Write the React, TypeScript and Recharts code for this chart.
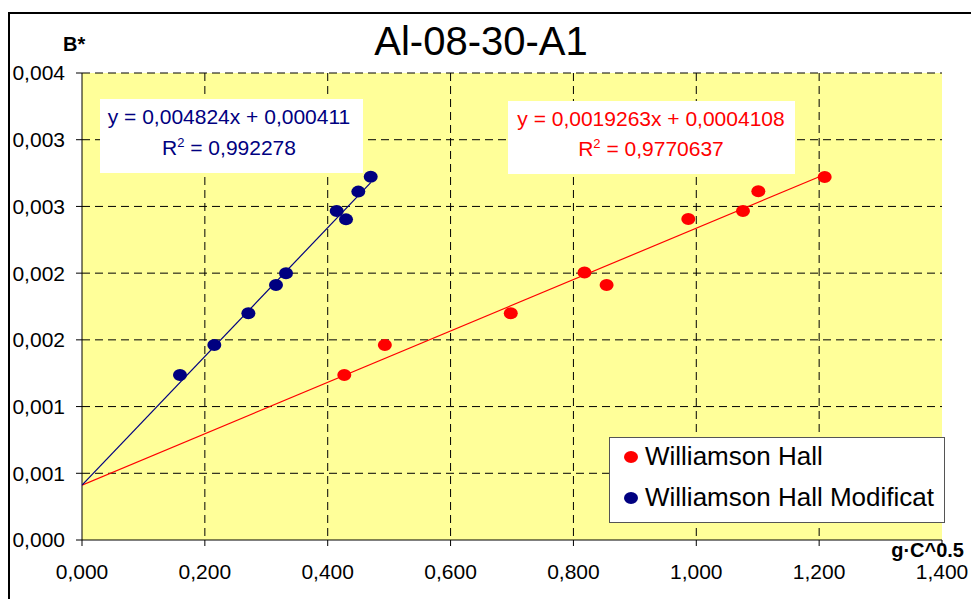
import React from 'react'
import { ScatterChart, Scatter, XAxis, YAxis, CartesianGrid, Legend } from 'recharts'

// B* values (shared by both plots)
const bStar = [0.001236, 0.001462, 0.001699, 0.002004, 0.001911, 0.002406, 0.002466, 0.002614, 0.00272]
const bStarMod = [0.001237, 0.001462, 0.001699, 0.001911, 0.001999, 0.002466, 0.002403, 0.002611, 0.002723]

const whX = [0.427, 0.493, 0.698, 0.818, 0.854, 0.987, 1.076, 1.101, 1.209]
const whModX = [0.1595, 0.2154, 0.2708, 0.3158, 0.3321, 0.4146, 0.4298, 0.4498, 0.47]

// trend line coefficients as printed on the chart
const whFit = { slope: 0.0019263, intercept: 0.0004108 }
const whModFit = { slope: 0.004824, intercept: 0.000411 }

const xTicks = [0, 0.2, 0.4, 0.6, 0.8, 1.0, 1.2, 1.4]
const yTicks = [0, 0.0005, 0.001, 0.0015, 0.002, 0.0025, 0.003, 0.0035]
const yTickLabels = ['0,000', '0,001', '0,001', '0,002', '0,002', '0,003', '0,003', '0,004']

const RED = '#FF0000'
const NAVY = '#000080'
const FONT = '"Liberation Sans", Arial, sans-serif'

const whData = whX.map((x, i) => ({ x, y: bStar[i] }))
const whModData = whModX.map((x, i) => ({ x, y: bStarMod[i] }))

const trend = (fit: { slope: number; intercept: number }, xs: number[]) => {
  const xMax = Math.max(...xs)
  return [
    { x: 0, y: fit.intercept },
    { x: xMax, y: fit.slope * xMax + fit.intercept },
  ]
}

// the axis scale handed to grid generators may be a function or a wrapper with .map
const applyScale = (axis: any, values: number[]): number[] => {
  const s = axis && axis.scale
  if (!s) return []
  if (typeof s === 'function') return values.map((v) => s(v))
  if (typeof s.map === 'function') return values.map((v) => s.map(v))
  if (typeof s.apply === 'function') return values.map((v) => s.apply(v))
  return []
}

const Dot = (p: any) => <ellipse cx={p.cx} cy={p.cy} rx={7} ry={6} fill={p.fill} />
const NoDot = () => <g />

const LegendBox = () => (
  <div
    style={{
      width: 334,
      height: 84,
      background: '#fff',
      border: '1px solid #555',
      fontFamily: FONT,
      fontSize: 26,
      color: '#000',
      position: 'relative',
    }}
  >
    {[
      { name: 'Williamson Hall', color: RED, top: 3 },
      { name: 'Williamson Hall Modificat', color: NAVY, top: 44 },
    ].map((e) => (
      <div key={e.name} style={{ position: 'absolute', left: 13, top: e.top, display: 'flex', alignItems: 'center', whiteSpace: 'nowrap' }}>
        <svg width={16} height={14} style={{ marginRight: 6 }}>
          <ellipse cx={8} cy={7} rx={7} ry={6} fill={e.color} />
        </svg>
        <span>{e.name}</span>
      </div>
    ))}
  </div>
)

export default function App() {
  return (
    <div style={{ position: 'absolute', left: 0, top: 0, width: 971, height: 599, background: '#fff', overflow: 'hidden' }}>
      <ScatterChart width={971} height={599} margin={{ top: 73, right: 29, bottom: 19, left: 0 }}>
        <CartesianGrid
          fill="#FFFF99"
          stroke="#000"
          strokeDasharray="8 5"
          horizontalCoordinatesGenerator={({ yAxis }: any) => applyScale(yAxis, yTicks.slice(1))}
          verticalCoordinatesGenerator={({ xAxis }: any) => applyScale(xAxis, xTicks.slice(1, -1))}
        />
        <XAxis
          type="number"
          dataKey="x"
          domain={[0, 1.4]}
          ticks={xTicks}
          height={40}
          tickSize={6}
          tickMargin={18}
          stroke="#000"
          tick={{ fill: '#000', fontSize: 21, fontFamily: FONT }}
          tickFormatter={(v: number) => v.toFixed(3).replace('.', ',')}
          allowDataOverflow
        />
        <YAxis
          type="number"
          dataKey="y"
          domain={[0, 0.0035]}
          ticks={yTicks}
          width={82}
          tickSize={6}
          tickMargin={11}
          stroke="#000"
          tick={{ fill: '#000', fontSize: 21, fontFamily: FONT }}
          tickFormatter={(_v: number, i: number) => yTickLabels[i]}
          allowDataOverflow
        />
        <Scatter
          name="trend WH"
          data={trend(whFit, whX)}
          line={{ stroke: RED, strokeWidth: 1.2 }}
          shape={NoDot}
          legendType="none"
          isAnimationActive={false}
        />
        <Scatter
          name="trend WHM"
          data={trend(whModFit, whModX)}
          line={{ stroke: NAVY, strokeWidth: 1.2 }}
          shape={NoDot}
          legendType="none"
          isAnimationActive={false}
        />
        <Scatter name="Williamson Hall" data={whData} fill={RED} shape={Dot} isAnimationActive={false} />
        <Scatter name="Williamson Hall Modificat" data={whModData} fill={NAVY} shape={Dot} isAnimationActive={false} />
        <Legend
          layout="vertical"
          align="center"
          verticalAlign="middle"
          content={LegendBox}
          wrapperStyle={{ left: 609, top: 437, width: 336, height: 86 }}
        />
      </ScatterChart>
      <svg width={971} height={599} style={{ position: 'absolute', left: 0, top: 0, pointerEvents: 'none' }} fontFamily={FONT}>
        <line x1={9} y1={12} x2={9} y2={599} stroke="#000" strokeWidth={2} />
        <line x1={8} y1={13} x2={971} y2={13} stroke="#000" strokeWidth={2} />
        <text x={481} y={55} fontSize={40} textAnchor="middle" fill="#000">Al-08-30-A1</text>
        <text x={63} y={51} fontSize={20} fontWeight="bold" fill="#000">B*</text>
        <text x={964} y={557} fontSize={20} fontWeight="bold" textAnchor="end" fill="#000">g·C^0.5</text>
        <rect x={100} y={99} width={263} height={74} fill="#fff" />
        <text x={229} y={124} fontSize={21} textAnchor="middle" fill={NAVY}>y = 0,004824x + 0,000411</text>
        <text x={229} y={155} fontSize={21} textAnchor="middle" fill={NAVY}>
          R<tspan fontSize={13} dy={-8}>2</tspan><tspan dy={8}> = 0,992278</tspan>
        </text>
        <rect x={508} y={101} width={287} height={73} fill="#fff" />
        <text x={651} y={126} fontSize={21} textAnchor="middle" fill={RED}>y = 0,0019263x + 0,0004108</text>
        <text x={651} y={156} fontSize={21} textAnchor="middle" fill={RED}>
          R<tspan fontSize={13} dy={-8}>2</tspan><tspan dy={8}> = 0,9770637</tspan>
        </text>
      </svg>
    </div>
  )
}
